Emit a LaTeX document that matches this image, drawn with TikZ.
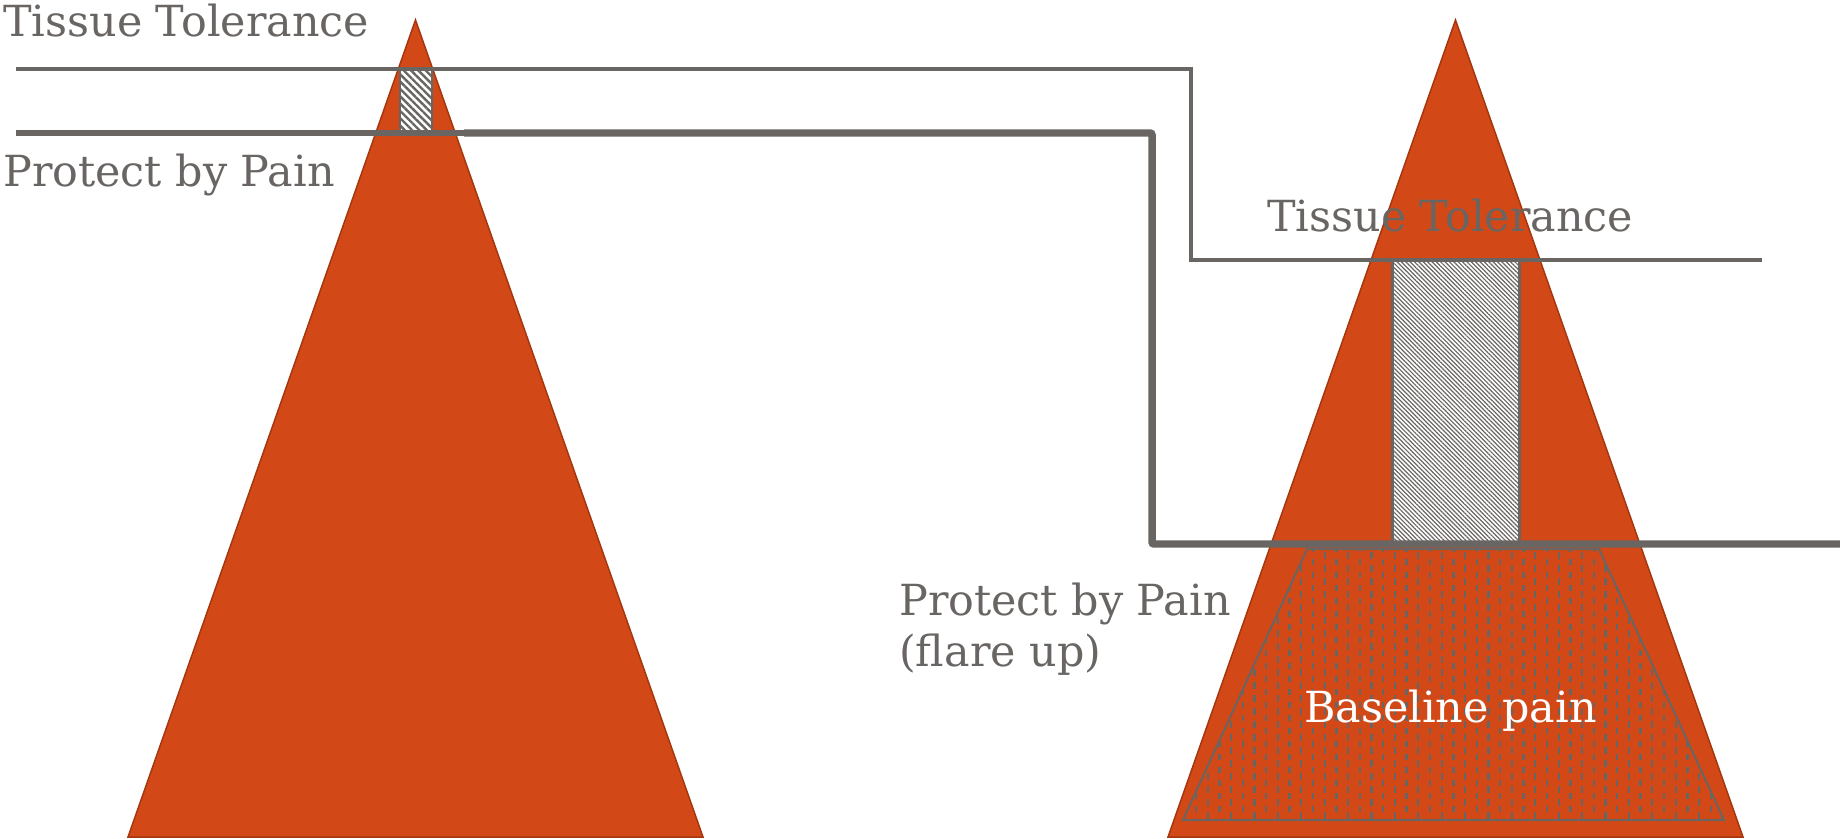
\documentclass[tikz,border=0pt]{standalone}
\usepackage{fontspec}
\setmainfont{DejaVu Serif}
\usetikzlibrary{patterns.meta}
\definecolor{cone}{RGB}{210,73,23}
\definecolor{coneedge}{RGB}{165,55,15}
\definecolor{ink}{RGB}{105,101,99}
\tikzset{
  cone/.style={fill=cone,draw=coneedge,line width=1.5},
  level/.style={draw=ink,line width=4.5,line cap=butt},
  bigline/.style={draw=ink,line width=7.5,line cap=butt,rounded corners=2,line join=miter},
  label/.style={text=ink,font=\fontsize{43}{52}\selectfont,inner sep=0,anchor=base west,align=left},
  whitelabel/.style={text=white,font=\fontsize{43}{52}\selectfont,inner sep=0,anchor=base west},
  hatchsmall/.style={draw=ink,line width=3,fill=white,postaction={pattern={Lines[angle=-45,distance=5.2,line width=2.4]},pattern color=ink}},
  hatchbig/.style={draw=ink,line width=3,fill=white,postaction={pattern={Lines[angle=-45,distance=3.1,line width=1.2]},pattern color=ink}},
  dashcol/.style={draw=ink,line width=2.3,dash pattern=on 6.5bp off 6.5bp},
}
\begin{document}
\begin{tikzpicture}[x=1bp,y=-1bp]
\useasboundingbox (0,0) rectangle (1840,839);
% cones
\path[cone] (415.5,20) -- (703,837) -- (128,837) -- cycle;
\path[cone] (1455.5,20) -- (1743,837) -- (1168,837) -- cycle;
% baseline pain trapezoid
\begin{scope}
\clip (1307,549) -- (1599,549) -- (1724,820) -- (1183,820) -- cycle;
\foreach \i in {0,...,23}{
  \pgfmathsetmacro{\xa}{1184.3+23.4*\i}
  \pgfmathsetmacro{\xb}{1196.0+23.4*\i}
  \path[dashcol] (\xa,552) -- (\xa,830);
  \path[dashcol] (\xb,545.5) -- (\xb,830);
}
\end{scope}
\draw[ink,line width=2] (1307,549) -- (1599,549) -- (1724,820) -- (1183,820) -- cycle;
% hatched boxes
\path[hatchsmall] (400,69) rectangle (432,133);
\path[hatchbig] (1392,260) rectangle (1519,544);
% levels
\coordinate (t1) at (16,69);
\coordinate (t2) at (1191,69);
\coordinate (t3) at (1191,260);
\coordinate (t4) at (1762,260);
\path[level] (t1) -- (t2) -- (t3) -- (t4);
\coordinate (p0) at (16,133);
\coordinate (p1) at (466,133);
\coordinate (p2) at (1152,133);
\coordinate (p3) at (1152,544);
\coordinate (p4) at (1840,544);
\path[level,line width=5.5] (p0) -- (p1);
\path[bigline] (464,133) -- (p2) -- (p3) -- (p4);
% labels
\node[label] (tt1) at (3,36) {Tissue Tolerance};
\node[label] (pp1) at (3,186) {Protect by Pain};
\node[label] (tt2) at (1267,231) {Tissue Tolerance};
\node[label] (pp2) at (899,615) {Protect by Pain};
\node[label] (fl) at (899,666) {(flare up)};
\node[whitelabel] (bp) at (1304,722) {Baseline pain};
\end{tikzpicture}
\end{document}
